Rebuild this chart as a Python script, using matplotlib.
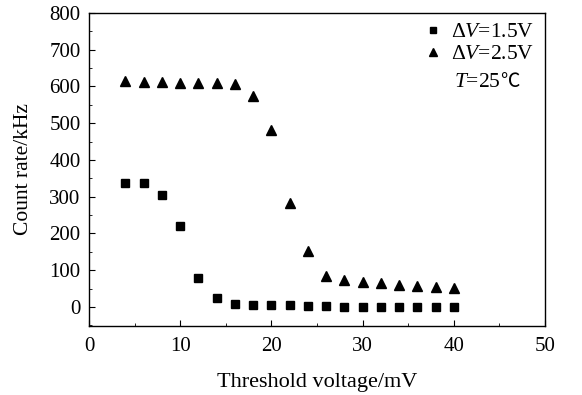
import matplotlib
matplotlib.use("Agg")
import matplotlib.pyplot as plt
from matplotlib.ticker import MultipleLocator

plt.rcParams['font.family'] = ['Liberation Serif', 'DejaVu Serif']
plt.rcParams['mathtext.fontset'] = 'custom'
plt.rcParams['mathtext.rm'] = 'Liberation Serif'
plt.rcParams['mathtext.it'] = 'Liberation Serif:italic'

threshold = [4, 6, 8, 10, 12, 14, 16, 18, 20, 22, 24, 26, 28, 30, 32, 34, 36, 38, 40]
rate_15v = [338, 338, 304, 221, 80, 24, 7, 5, 5, 4, 3, 2, 1, 1, 0, 0, 0, 0, 0]
rate_25v = [616, 613, 612, 610, 609, 609, 607, 574, 481, 284, 153, 84, 74, 69, 64, 60, 57, 54, 52]

fig = plt.figure(figsize=(5.82, 3.95), dpi=100)
ax = fig.add_axes([89 / 582, 1 - 326 / 395, (545 - 89) / 582, (326 - 13) / 395])

ax.plot(threshold, rate_15v, 's', color='black', markersize=5.4, linestyle='none',
        label=r'$\Delta\mathit{V}$=1.5V')
ax.plot(threshold, rate_25v, '^', color='black', markersize=7, linestyle='none',
        label=r'$\Delta\mathit{V}$=2.5V')

ax.set_xlim(0, 50)
ax.set_ylim(-52, 800)
ax.xaxis.set_major_locator(MultipleLocator(10))
ax.xaxis.set_minor_locator(MultipleLocator(5))
ax.yaxis.set_major_locator(MultipleLocator(100))
ax.yaxis.set_minor_locator(MultipleLocator(50))
ax.tick_params(which='both', direction='in', labelsize=15, top=False, right=False)
ax.tick_params(axis='y', pad=6)
ax.tick_params(axis='x', pad=8)
ax.tick_params(which='major', length=4)
ax.tick_params(which='minor', length=2.5)
for s in ax.spines.values():
    s.set_linewidth(1.0)

ax.set_xlabel('Threshold voltage/mV', fontsize=16, labelpad=12)
ax.set_ylabel('Count rate/kHz', fontsize=15.5, labelpad=12)

ax.legend(loc='upper right', frameon=False, fontsize=15.5, handletextpad=0.35,
          borderaxespad=0.1, labelspacing=0.1, handlelength=1.0, markerscale=0.75,
          bbox_to_anchor=(1.0, 1.005))
t = ax.text(0.80, 0.765, r'$\mathit{T}$=25', transform=ax.transAxes, ha='left',
            va='baseline', fontsize=15.5)
ax.annotate('℃', xy=(1, 0), xycoords=t, ha='left', va='bottom', fontsize=14,
            family=['Noto Sans CJK SC', 'DejaVu Sans'])

fig.savefig('out.png', dpi=100)
